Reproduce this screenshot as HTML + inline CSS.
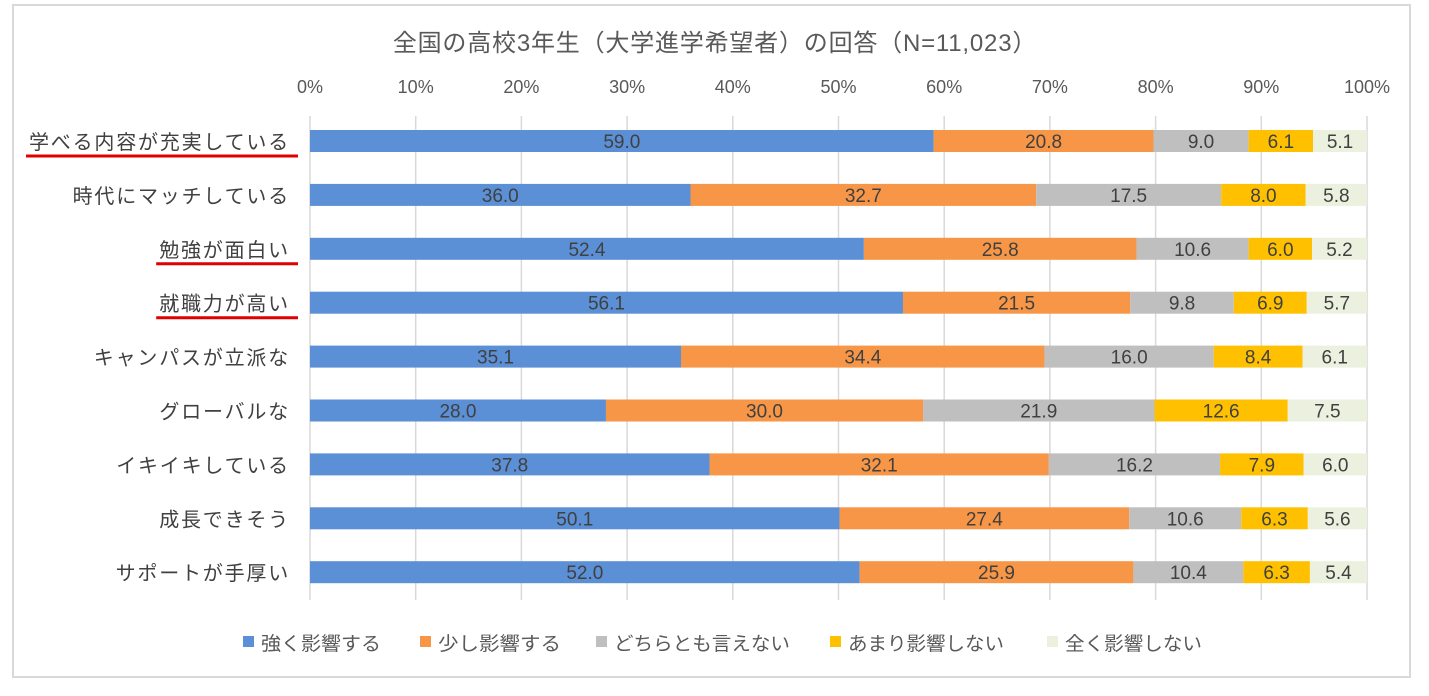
<!DOCTYPE html>
<html><head><meta charset="utf-8"><style>
body{margin:0;background:#fff;}
svg text{font-family:"Liberation Sans","Noto Sans CJK JP",sans-serif;}
</style></head><body>
<svg width="1429" height="691" xmlns="http://www.w3.org/2000/svg">
<rect x="13" y="5" width="1397" height="672" fill="#fff" stroke="#d9d9d9" stroke-width="2"/>
<text x="715" y="51" font-size="24" letter-spacing="0.8" fill="#595959" text-anchor="middle">全国の高校3年生（大学進学希望者）の回答（N=11,023）</text>
<g id="grid"></g><g id="bars"></g><g id="labels"></g><g id="legend"></g>
</svg>
<script>
const categories=["学べる内容が充実している","時代にマッチしている","勉強が面白い","就職力が高い","キャンパスが立派な","グローバルな","イキイキしている","成長できそう","サポートが手厚い"];
const strong=[59.0,36.0,52.4,56.1,35.1,28.0,37.8,50.1,52.0];
const some=[20.8,32.7,25.8,21.5,34.4,30.0,32.1,27.4,25.9];
const neither=[9.0,17.5,10.6,9.8,16.0,21.9,16.2,10.6,10.4];
const notMuch=[6.1,8.0,6.0,6.9,8.4,12.6,7.9,6.3,6.3];
const none=[5.1,5.8,5.2,5.7,6.1,7.5,6.0,5.6,5.4];
const seriesNames=["強く影響する","少し影響する","どちらとも言えない","あまり影響しない","全く影響しない"];
const ticks=[0,10,20,30,40,50,60,70,80,90,100];
const underlined=[0,2,3];
const colors=["#5b8fd6","#f79646","#bfbfbf","#ffc000","#ebf1de"];
const NS="http://www.w3.org/2000/svg";
const x=v=>310+v*10.57;
const y=i=>141+i*53.9;
function mk(p,t,a){const e=document.createElementNS(NS,t);for(const k in a)e.setAttribute(k,a[k]);p.appendChild(e);return e;}
const grid=document.getElementById('grid'),bars=document.getElementById('bars'),labels=document.getElementById('labels'),legend=document.getElementById('legend');
ticks.forEach(t=>{
 const l=mk(grid,'line',{x1:x(t),x2:x(t),y1:116,y2:600,stroke:'#d9d9d9','stroke-width':1.5});
 
 
 const tx=mk(grid,'text',{x:x(t),y:93,'font-size':18,fill:'#595959','text-anchor':'middle'});
 tx.textContent=t+'%';
 
 
});
const series=[strong,some,neither,notMuch,none];
categories.forEach((c,i)=>{
 let acc=0;
 series.forEach((s,j)=>{
  const v=s[i];
  const r=mk(bars,'rect',{x:x(acc),y:y(i)-11,width:x(acc+v)-x(acc),height:22,fill:colors[j]});
  
  
  const t=mk(bars,'text',{x:(x(acc)+x(acc+v))/2,y:y(i)+7,'font-size':19,fill:'#404040','text-anchor':'middle'});
  t.textContent=v.toFixed(1);
  
  
  acc+=v;
 });
 const lt=mk(labels,'text',{x:290,y:y(i)+8,'font-size':20,'letter-spacing':1.8,fill:'#404040','text-anchor':'end'});
 lt.textContent=c;
 
 
 if(underlined.includes(i)){
  const w=lt.getComputedTextLength();
  const u=mk(labels,'line',{x1:290-w-3,x2:298,y1:y(i)+15,y2:y(i)+15,stroke:'#e00000','stroke-width':3});
  
  
 }
});
const lx=[243,420,596,830,1047];
const lw=[120,123,176,156,137];
seriesNames.forEach((n,j)=>{
 const r=mk(legend,'rect',{x:lx[j],y:636,width:11,height:11,fill:colors[j]});
 
 
 const t=mk(legend,'text',{x:lx[j]+18,y:650,'font-size':19,textLength:lw[j],lengthAdjust:'spacingAndGlyphs',fill:'#595959'});
 t.textContent=n;
 
 
});
</script>
</body></html>
